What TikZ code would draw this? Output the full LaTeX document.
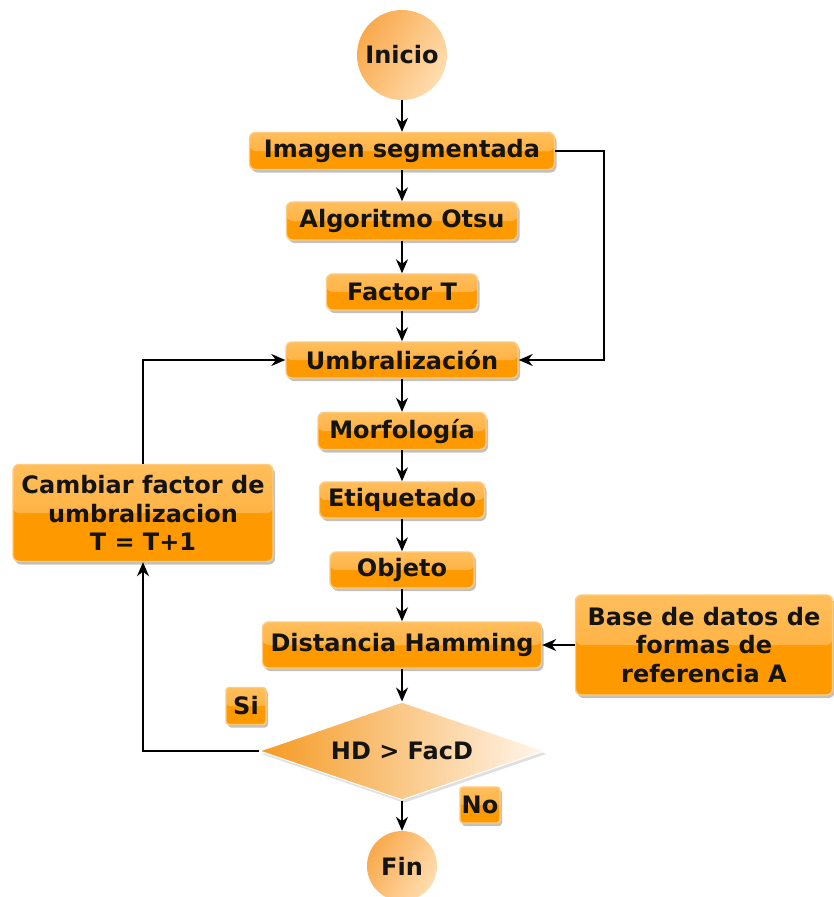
\documentclass[tikz,border=0pt]{standalone}
\usepackage{fontspec}
\setmainfont{DejaVu Sans}
\usetikzlibrary{shapes.geometric,shadows,arrows.meta}
\definecolor{boxbot}{HTML}{FF9900}
\definecolor{boxtop}{HTML}{FFBE5C}
\definecolor{boxmid}{HTML}{FFA92E}
\definecolor{boxedge}{HTML}{FFCB7D}
\definecolor{circdark}{HTML}{F9A94C}
\definecolor{circlight}{HTML}{FFDDB0}
\definecolor{diadark}{HTML}{F59A22}
\definecolor{dialight}{HTML}{FFF6EC}
\begin{document}
\begin{tikzpicture}[x=1pt,y=-1pt,
  every node/.style={font=\fontsize{24}{28.5}\selectfont\bfseries, text=black!92, inner sep=0pt},
  procbox/.style={rectangle, rounded corners=6pt, draw=boxedge, line width=1.4pt, fill=boxbot, align=center,
    drop shadow={shadow xshift=2pt,shadow yshift=-3pt,opacity=0.35,fill=black!70},
    path picture={\shade[top color=boxtop,bottom color=boxmid] (path picture bounding box.north west) rectangle (path picture bounding box.east);}},
  termnode/.style={circle, left color=circdark, right color=circlight, shading angle=60},
  decision/.style={diamond, aspect=2.9, left color=diadark, right color=dialight, draw=white, line width=1pt,
    drop shadow={shadow xshift=2pt,shadow yshift=-3pt,opacity=0.2,fill=black!60}},
  arr/.style={-{Stealth[length=14pt,width=12pt,inset=4.5pt]}, line width=1.6pt, black}
]
\useasboundingbox (0,0) rectangle (833,897);

\node[termnode, minimum size=90pt] (ini) at (402,55) {Inicio};
\node[procbox, minimum width=305pt, minimum height=37pt] (img) at (402,151) {Imagen segmentada};
\node[procbox, minimum width=231pt, minimum height=38pt] (ots) at (402,221) {Algoritmo Otsu};
\node[procbox, minimum width=151pt, minimum height=36pt] (fac) at (402,292) {Factor T};
\node[procbox, minimum width=232pt, minimum height=36pt] (umb) at (402,360) {Umbralización};
\node[procbox, minimum width=168pt, minimum height=37pt] (mor) at (402,431) {Morfología};
\node[procbox, minimum width=165pt, minimum height=36pt] (eti) at (402,500) {Etiquetado};
\node[procbox, minimum width=144pt, minimum height=36pt] (obj) at (402,570) {Objeto};
\node[procbox, minimum width=279pt, minimum height=46pt] (ham) at (402,645) {Distancia Hamming};
\node[procbox, minimum width=257pt, minimum height=100pt] (bas) at (704,645) {Base de datos de\\formas de\\referencia A};
\node[procbox, minimum width=260pt, minimum height=97pt] (cam) at (143,513) {Cambiar factor de\\umbralizacion\\T = T+1};
\node[decision, minimum width=285pt, minimum height=98pt] (dec) at (402,751) {HD > FacD};
\node[procbox, rounded corners=3pt, minimum width=40pt, minimum height=37pt] (si) at (246,706) {Si};
\node[procbox, rounded corners=3pt, minimum width=40pt, minimum height=36pt] (no) at (480,805) {No};
\node[termnode, minimum size=70pt] (fin) at (402,866) {Fin};

\coordinate (rt) at (604,151);

\draw[arr] (ini) -- (img);
\draw[arr] (img) -- (ots);
\draw[arr] (ots) -- (fac);
\draw[arr] (fac) -- (umb);
\draw[arr] (umb) -- (mor);
\draw[arr] (mor) -- (eti);
\draw[arr] (eti) -- (obj);
\draw[arr] (obj) -- (ham);
\draw[arr] (ham) -- (dec);
\draw[arr] (dec) -- (fin);
\draw[arr] (bas.west) -- (ham.east);
\draw[arr] (img.east) -- (rt) |- (umb.east);
\draw[arr] (cam.north) |- (umb.west);
\draw[arr] (dec.west) -| (cam.south);
\end{tikzpicture}
\end{document}
